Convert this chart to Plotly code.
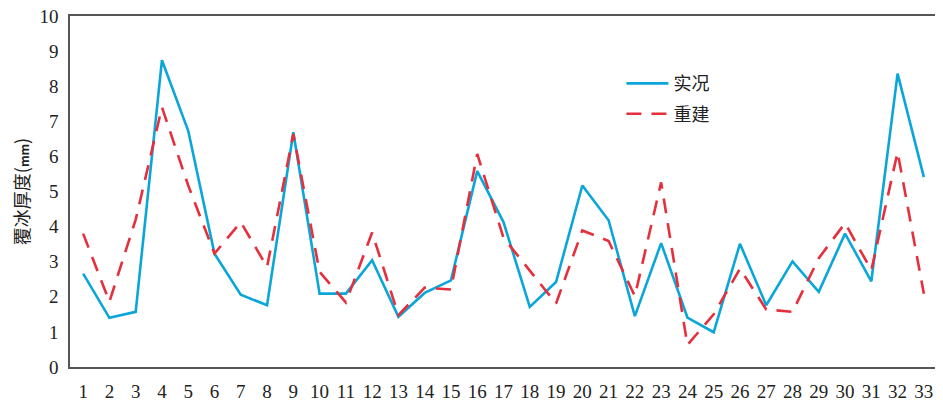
import plotly.graph_objects as go

x_labels = list(range(1, 34))
observed = [2.66, 1.40, 1.57, 8.74, 6.73, 3.23, 2.06, 1.76, 6.69, 2.09,
            2.09, 3.04, 1.43, 2.11, 2.47, 5.58, 4.13, 1.71, 2.42, 5.17,
            4.18, 1.45, 3.53, 1.41, 0.99, 3.51, 1.76, 3.01, 2.14, 3.80,
            2.44, 8.36, 5.41]
reconstructed = [3.80, 1.86, 4.20, 7.40, 5.17, 3.23, 4.13, 2.85, 6.64, 2.71,
                 1.84, 3.83, 1.48, 2.26, 2.21, 6.07, 3.68, 2.76, 1.81, 3.89,
                 3.59, 2.02, 5.26, 0.63, 1.50, 2.80, 1.64, 1.57, 3.10, 4.10,
                 2.76, 6.12, 2.09]

fig = go.Figure()
fig.add_trace(go.Scatter(x=x_labels, y=observed, mode="lines", name="实况",
                         legendgroup="a",
                         line=dict(color="#0ba6d9", width=2.6)))
fig.add_trace(go.Scatter(x=x_labels, y=reconstructed, mode="lines", name="重建",
                         legendgroup="b",
                         line=dict(color="#e62f3c", width=2.6, dash="15px,10px")))

axis_common = dict(showline=True, linecolor="#555555", linewidth=1.5, mirror=True,
                   showgrid=False, zeroline=False, automargin=False,
                   ticks="outside", ticklen=6, tickcolor="rgba(0,0,0,0)",
                   ticklabeloverflow="allow",
                   tickfont=dict(family="Liberation Serif, Noto Sans CJK SC", size=19, color="#222222"))

fig.update_layout(
    width=935, height=396,
    margin=dict(l=62, r=6, t=8, b=37),
    paper_bgcolor="white", plot_bgcolor="white",
    xaxis=dict(range=[0.5, 33.5], tickmode="array", tickvals=x_labels,
               ticktext=[str(v) for v in x_labels], **axis_common),
    yaxis=dict(range=[0, 10], tickmode="array", tickvals=list(range(0, 11)),
               title=dict(text="覆冰厚度(<span style='font-size:12px'><b>mm</b></span>)",
                          font=dict(family="Noto Sans CJK SC", size=18, color="#222222"),
                          standoff=14),
               **axis_common),
    legend=dict(x=0.636, y=0.86, xanchor="left", yanchor="top",
                bgcolor="rgba(0,0,0,0)", font=dict(family="Noto Sans CJK SC", size=18, color="#222222"),
                itemwidth=42, tracegroupgap=4),
    showlegend=True,
)

fig.write_html("out.html")
